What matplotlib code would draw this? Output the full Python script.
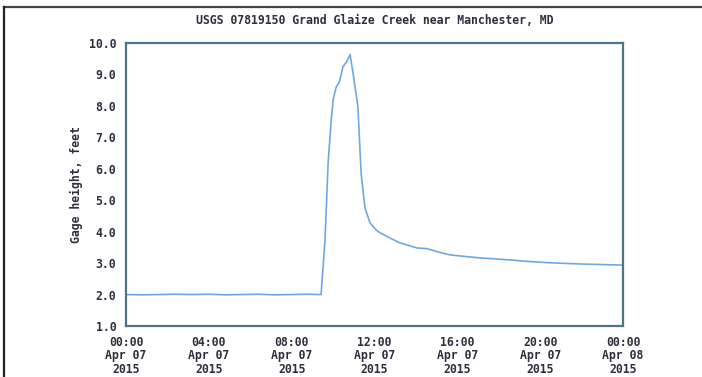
#!/usr/bin/env python3

import numpy as np
from matplotlib import pyplot as plt
from matplotlib.lines import Line2D

# gage height readings (hours since 00:00 Apr 07 2015, feet)
hours = [0.0, 0.8, 1.6, 2.4, 3.2, 4.0, 4.8, 5.6, 6.4, 7.2, 8.0, 8.8, 9.3,
         9.42, 9.61, 9.76, 9.9, 10.0, 10.15, 10.3, 10.48, 10.65, 10.82,
         10.96, 11.2, 11.35, 11.54, 11.78, 12.07, 12.27, 12.8, 13.24,
         14.06, 14.54, 15.1, 15.65, 17.0, 18.55, 19.5, 20.48, 22.0, 23.8, 24.0]
height = [2.0, 1.99, 2.0, 2.01, 2.0, 2.01, 1.99, 2.0, 2.01, 1.99, 2.0, 2.01, 2.0,
          2.0, 3.74, 6.19, 7.46, 8.2, 8.6, 8.75, 9.25, 9.4, 9.63,
          9.06, 7.97, 5.87, 4.75, 4.28, 4.06, 3.96, 3.78, 3.64,
          3.48, 3.46, 3.35, 3.26, 3.17, 3.10, 3.05, 3.01, 2.97, 2.94, 2.93]

xtick_pos = [0, 4, 8, 12, 16, 20, 24]
xtick_lab = ['00:00\nApr 07\n2015', '04:00\nApr 07\n2015', '08:00\nApr 07\n2015',
             '12:00\nApr 07\n2015', '16:00\nApr 07\n2015', '20:00\nApr 07\n2015',
             '00:00\nApr 08\n2015']
ytick_pos = [1, 2, 3, 4, 5, 6, 7, 8, 9, 10]

txt = '#2e2e40'
font = dict(family='DejaVu Sans Mono', weight='bold', size=8.3, color=txt)

def main():
    fig = plt.figure(figsize=(7.02, 3.77), dpi=100)
    ax = fig.add_axes([0.1795, 0.1353, 0.708, 0.7507])
    ax.plot(hours, height, color='#6fa8e0', lw=1.2)
    ax.set_xlim(0, 24)
    ax.set_ylim(1, 10)
    ax.set_xticks(xtick_pos)
    ax.set_xticklabels(xtick_lab, fontdict=font, linespacing=1.05)
    ax.set_yticks(ytick_pos)
    ax.set_yticklabels(['%.1f' % v for v in ytick_pos], fontdict=font)
    ax.tick_params(length=0, pad=7)
    for s in ax.spines.values():
        s.set_color('#4d7484')
        s.set_linewidth(1.6)
    ax.set_ylabel('Gage height, feet', fontdict=font, labelpad=4)
    ax.set_title('USGS 07819150 Grand Glaize Creek near Manchester, MD',
                 fontdict=font, pad=14)
    # outer frame lines (top and left)
    fig.add_artist(Line2D([0.006, 1.0], [0.981, 0.981], color='#444444', lw=1.6,
                          transform=fig.transFigure))
    fig.add_artist(Line2D([0.006, 0.006], [0.0, 0.981], color='#222222', lw=1.6,
                          transform=fig.transFigure))
    fig.savefig('out.png', dpi=100)

if __name__ == '__main__':
    main()
